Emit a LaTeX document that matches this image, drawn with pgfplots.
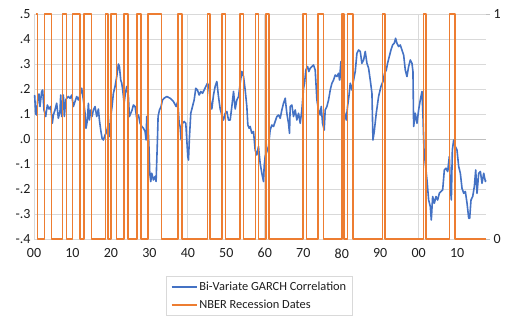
\documentclass[border=0pt]{standalone}
\usepackage{fontspec}
\setmainfont{Carlito}
\usepackage{pgfplots}
\usepackage{pgfplotstable}
\pgfplotsset{compat=1.18}
\definecolor{gblue}{HTML}{4472C4}
\definecolor{gorange}{HTML}{ED7D31}
\definecolor{gridc}{HTML}{D9D9D9}
\definecolor{zeroc}{HTML}{BFBFBF}
\definecolor{txt}{HTML}{1E1E1E}

\pgfplotstableread{
year corr
1900.17 0.176
1900.43 0.100
1900.69 0.096
1900.95 0.156
1901.30 0.180
1901.56 0.130
1901.99 0.190
1902.25 0.196
1902.60 0.116
1903.04 0.090
1903.47 0.136
1903.90 0.120
1904.34 0.130
1904.77 0.063
1905.03 0.096
1905.46 0.116
1905.90 0.143
1906.33 0.083
1906.76 0.110
1906.94 0.176
1907.20 0.090
1907.63 0.176
1907.89 0.090
1908.24 0.156
1908.50 0.163
1908.93 0.170
1909.37 0.163
1909.80 0.176
1910.23 0.130
1910.67 0.150
1911.10 0.170
1911.53 0.156
1911.97 0.176
1912.40 0.203
1912.84 0.156
1913.27 0.103
1913.53 0.043
1913.88 0.076
1914.14 0.143
1914.40 0.076
1914.74 0.116
1915.09 0.090
1915.44 0.116
1915.87 0.130
1916.31 0.090
1916.74 0.120
1917.00 0.076
1917.35 0.036
1917.69 0.003
1918.04 -0.004
1918.47 0.016
1918.73 0.023
1919.08 0.043
1919.34 0.063
1919.60 0.010
1919.95 0.090
1920.29 0.130
1920.64 0.183
1921.07 0.210
1921.51 0.250
1921.94 0.300
1922.20 0.290
1922.55 0.236
1922.81 0.223
1923.07 0.196
1923.42 0.143
1923.76 0.183
1924.11 0.210
1924.54 0.170
1924.80 0.090
1925.15 0.103
1925.50 0.116
1925.84 0.136
1926.28 0.130
1926.71 0.083
1927.15 0.096
1927.58 0.063
1928.01 0.050
1928.45 0.043
1928.88 0.030
1929.14 -0.004
1929.31 0.090
1929.66 0.050
1929.92 -0.044
1930.09 -0.137
1930.36 -0.170
1930.62 -0.137
1931.05 -0.164
1931.48 -0.150
1931.74 -0.170
1931.92 -0.084
1932.09 -0.004
1932.26 0.090
1932.61 0.116
1933.04 0.130
1933.39 0.156
1933.82 0.163
1934.52 0.170
1935.39 0.163
1936.25 0.150
1936.95 0.130
1937.38 0.150
1937.73 0.063
1937.99 0.050
1938.25 -0.004
1938.60 0.063
1939.03 0.070
1939.46 0.063
1939.72 -0.004
1939.98 -0.070
1940.16 -0.084
1940.42 0.010
1940.76 0.103
1941.20 0.130
1941.63 0.156
1942.06 0.203
1942.50 0.196
1942.93 0.176
1943.37 0.190
1943.80 0.183
1944.23 0.196
1944.67 0.210
1945.10 0.223
1945.45 0.210
1945.79 0.156
1946.23 0.120
1946.66 0.176
1947.09 0.210
1947.53 0.230
1947.96 0.170
1948.40 0.120
1948.83 0.096
1949.26 0.076
1949.70 0.103
1950.13 0.110
1950.56 0.076
1951.00 0.076
1951.43 0.130
1951.87 0.190
1952.30 0.120
1952.73 0.156
1953.17 0.170
1953.60 0.223
1954.03 0.270
1954.47 0.250
1954.90 0.196
1955.33 0.130
1955.59 0.056
1955.94 0.043
1956.19 0.050
1956.62 0.023
1957.06 0.030
1957.49 -0.044
1957.92 -0.064
1958.36 -0.030
1958.79 -0.097
1959.23 -0.137
1959.66 -0.170
1959.83 -0.110
1960.09 -0.070
1960.53 -0.050
1960.96 -0.030
1961.39 0.036
1961.83 0.056
1962.26 0.050
1962.69 0.070
1963.13 0.090
1963.56 0.096
1964.00 0.083
1964.43 0.116
1964.86 0.143
1965.30 0.163
1965.73 0.103
1966.16 0.063
1966.42 0.023
1966.60 0.130
1967.03 0.136
1967.46 0.090
1967.90 0.116
1968.33 0.076
1968.77 0.103
1969.20 0.063
1969.63 0.116
1970.07 0.203
1970.33 0.223
1970.67 0.276
1971.11 0.290
1971.45 0.270
1971.80 0.283
1972.23 0.290
1972.67 0.296
1973.10 0.276
1973.54 0.156
1973.97 0.116
1974.40 0.096
1974.66 0.130
1975.01 0.063
1975.44 0.036
1975.70 0.116
1976.14 0.130
1976.57 0.156
1977.01 0.196
1977.44 0.223
1977.87 0.236
1978.31 0.256
1978.74 0.250
1979.17 0.263
1979.43 0.236
1979.78 0.310
1980.13 0.196
1980.47 0.116
1980.91 0.096
1981.17 0.076
1981.51 0.130
1981.86 0.170
1982.21 0.223
1982.64 0.196
1983.08 0.236
1983.51 0.270
1983.94 0.343
1984.38 0.356
1984.81 0.350
1985.24 0.303
1985.68 0.316
1986.11 0.350
1986.55 0.303
1986.98 0.283
1987.41 0.236
1987.85 0.183
1988.11 -0.004
1988.45 0.030
1988.97 0.103
1989.58 0.170
1990.19 0.210
1990.71 0.230
1991.14 0.263
1991.58 0.276
1991.92 0.303
1992.36 0.330
1992.79 0.356
1993.22 0.376
1993.66 0.383
1994.00 0.403
1994.35 0.383
1994.79 0.370
1995.22 0.376
1995.65 0.356
1996.09 0.336
1996.52 0.276
1996.95 0.250
1997.39 0.290
1997.82 0.316
1998.25 0.303
1998.51 0.270
1998.69 0.050
1999.12 0.103
1999.56 0.063
1999.99 0.116
2000.42 0.156
2000.86 0.190
2001.12 0.090
2001.38 -0.044
2001.72 -0.097
2002.16 -0.164
2002.59 -0.244
2003.02 -0.270
2003.28 -0.324
2003.63 -0.230
2004.07 -0.257
2004.50 -0.230
2004.93 -0.244
2005.37 -0.217
2005.80 -0.210
2006.23 -0.204
2006.67 -0.124
2007.10 -0.117
2007.53 -0.130
2007.97 -0.070
2008.23 -0.190
2008.49 -0.244
2008.75 -0.044
2009.10 -0.004
2009.53 -0.030
2009.96 -0.044
2010.40 -0.110
2010.83 -0.137
2011.26 -0.197
2011.70 -0.217
2012.13 -0.210
2012.57 -0.257
2013.00 -0.317
2013.26 -0.317
2013.60 -0.244
2014.04 -0.230
2014.47 -0.190
2014.82 -0.124
2015.17 -0.217
2015.60 -0.137
2016.03 -0.130
2016.47 -0.177
2016.90 -0.137
2017.34 -0.170
2017.42 -0.164
}\corrdata

\begin{document}
\begin{tikzpicture}
\useasboundingbox (-34bp,-85bp) rectangle (476bp,239bp);
\begin{axis}[
  at={(0,0)}, anchor=south west,
  scale only axis, width=452bp, height=225bp,
  xmin=1900, xmax=2017.5, ymin=-0.4, ymax=0.5,
  clip=false,
  axis line style={draw=none},
  xtick={1900,1910,1920,1930,1940,1950,1960,1970,1980,1990,2000,2010},
  xticklabels={00,10,20,30,40,50,60,70,80,90,00,10},
  ytick={-0.4,-0.3,-0.2,-0.1,0,0.1,0.2,0.3,0.4,0.5},
  yticklabels={-.4,-.3,-.2,-.1,.0,.1,.2,.3,.4,.5},
  major tick length=0pt,
  ymajorgrids,
  grid style={gridc, line width=0.8bp},
  extra y ticks={0}, extra y tick labels={},
  extra y tick style={grid style={zeroc, line width=1bp}},
  extra x ticks={1900,1920,1940,1960,1980,2000}, extra x tick labels={},
  extra x tick style={grid=major, grid style={gridc, line width=0.8bp}},
  tick label style={font=\fontsize{14bp}{16bp}\selectfont, text=txt},
  x tick label style={yshift=-6bp},
]
\addplot[gblue, line width=1.6bp, line join=round] table[x=year, y=corr] {\corrdata};
\end{axis}
\begin{axis}[
  at={(0,0)}, anchor=south west,
  scale only axis, width=452bp, height=225bp,
  xmin=1900, xmax=2017.5, ymin=0, ymax=1,
  clip=false,
  hide x axis,
  axis y line*=right,
  axis line style={draw=none},
  ytick={0,1}, yticklabels={0,1},
  tick align=outside,
  major tick length=4bp,
  tick style={zeroc, line width=0.8bp},
  tick label style={font=\fontsize{14bp}{16bp}\selectfont, text=txt},
  legend style={at={(0.499,-0.1644)}, anchor=north, draw=gridc, line width=0.8bp,
    font=\fontsize{12.4bp}{14bp}\selectfont, text=txt,
    inner xsep=4bp, inner ysep=3.5bp, row sep=4bp},
  legend cell align=left,
  legend image code/.code={\draw[#1, line width=1.5bp] (0bp,0bp) -- (25bp,0bp);},
]
\addlegendimage{gblue}
\addlegendentry{Bi-Variate GARCH Correlation}
\addplot[gorange, line width=1.5bp, line join=round] coordinates {
(1900.5,1)(1900.95,1)(1900.95,0)(1902.7,0)(1902.7,1)(1904.6,1)(1904.6,0)
(1907.4,0)(1907.4,1)(1908.45,1)(1908.45,0)(1910.05,0)(1910.05,1)(1911.98,1)(1911.98,0)
(1913.05,0)(1913.05,1)(1914.95,1)(1914.95,0)(1918.6,0)(1918.6,1)(1919.2,1)(1919.2,0)
(1920.05,0)(1920.05,1)(1921.5,1)(1921.5,0)(1923.4,0)(1923.4,1)(1924.5,1)(1924.5,0)
(1926.8,0)(1926.8,1)(1927.85,1)(1927.85,0)(1929.6,0)(1929.6,1)(1933.2,1)(1933.2,0)
(1937.4,0)(1937.4,1)(1938.45,1)(1938.45,0)(1945.1,0)(1945.1,1)(1945.8,1)(1945.8,0)
(1948.85,0)(1948.85,1)(1949.8,1)(1949.8,0)(1953.5,0)(1953.5,1)(1954.4,1)(1954.4,0)
(1957.6,0)(1957.6,1)(1958.3,1)(1958.3,0)(1960.3,0)(1960.3,1)(1961.1,1)(1961.1,0)
(1969.95,0)(1969.95,1)(1970.9,1)(1970.9,0)(1973.85,0)(1973.85,1)(1975.2,1)(1975.2,0)
(1980.05,0)(1980.05,1)(1980.55,1)(1980.55,0)(1981.55,0)(1981.55,1)(1982.9,1)(1982.9,0)
(1990.55,0)(1990.55,1)(1991.2,1)(1991.2,0)(2001.2,0)(2001.2,1)(2001.9,1)(2001.9,0)
(2007.95,0)(2007.95,1)(2009.5,1)(2009.5,0)(2017.4,0)
};
\addlegendentry{NBER Recession Dates}
\end{axis}
\end{tikzpicture}
\end{document}
